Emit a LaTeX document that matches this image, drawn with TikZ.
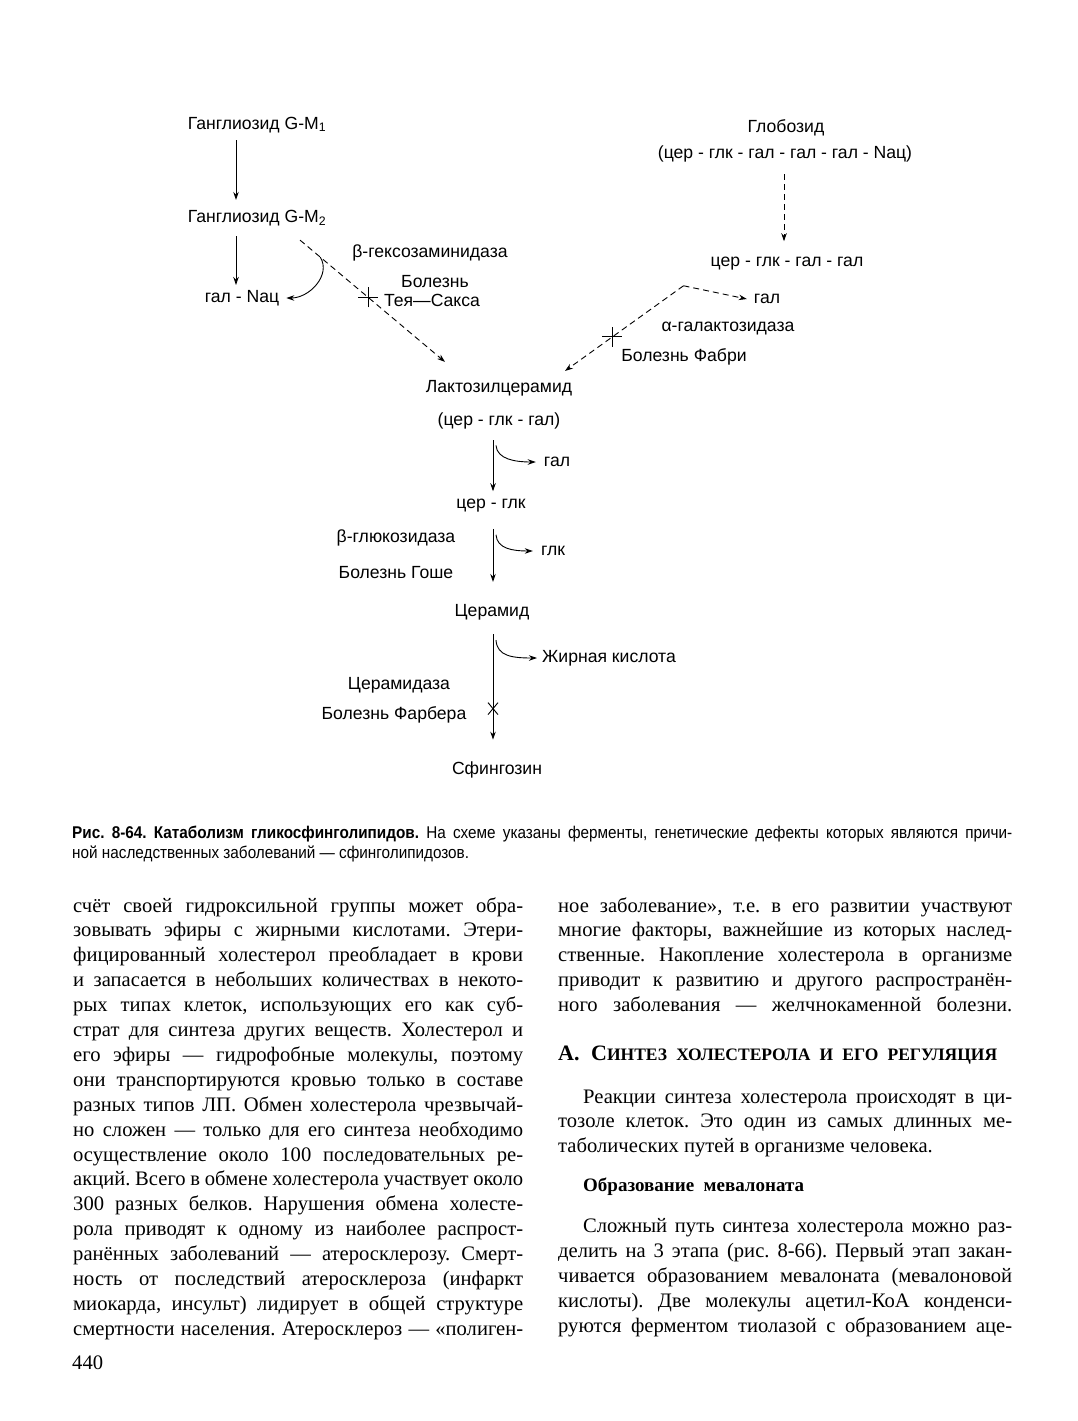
\documentclass[tikz,border=0pt]{standalone}
\usepackage{fontspec}
\setmainfont{Liberation Serif}
\newfontfamily\dsans{Liberation Sans}
\newfontfamily\capsans[FakeStretch=0.9]{Liberation Sans}
\usetikzlibrary{arrows.meta,calc}
\frenchspacing
\begin{document}
\begin{tikzpicture}[x=1pt,y=-1pt,
 lbl/.style={font=\dsans\fontsize{17.6}{19}\selectfont, inner sep=0pt},
 arr/.style={line width=0.9pt,-{Stealth[length=8pt,width=5.5pt]}},
 darr/.style={arr,dash pattern=on 6pt off 4pt},
 tick/.style={line width=0.9pt},
 bodyl/.style={anchor=base west,inner sep=0pt,font=\frenchspacing\fontsize{20.6}{24}\selectfont},
 capl/.style={anchor=base west,inner sep=0pt,font=\frenchspacing\capsans\fontsize{17}{19}\selectfont},
]
\useasboundingbox (0,0) rectangle (1077,1421);
\fill[white] (0,0) rectangle (1077,1421);

% ---------- diagram nodes ----------
\node[lbl] (gm1) at (257,125) {Ганглиозид G-M\textsubscript{1}};
\node[lbl] (gm2) at (257,218) {Ганглиозид G-M\textsubscript{2}};
\node[lbl] (galnac) at (242,298) {гал - Nац};
\node[lbl] (hex) at (430,253) {β-гексозаминидаза};
\node[lbl] (tsb) at (435,282) {Болезнь};
\node[lbl] (tsn) at (432,300) {Тея—Сакса};

\node[lbl] (glob) at (786,128) {Глобозид};
\node[lbl] (globf) at (785,154) {(цер - глк - гал - гал - гал - Nац)};
\node[lbl] (cggg) at (787,264) {цер - глк - гал - гал};
\node[lbl] (gal2) at (767,299) {гал};
\node[lbl] (agal) at (728,329) {α-галактозидаза};
\node[lbl] (fabri) at (684,357) {Болезнь Фабри};

\node[lbl] (lac) at (499,388) {Лактозилцерамид};
\node[lbl] (lacf) at (499,421) {(цер - глк - гал)};
\node[lbl] (gal3) at (557,462) {гал};
\node[lbl] (cg) at (491,506) {цер - глк};
\node[lbl] (bgl) at (396,538) {β-глюкозидаза};
\node[lbl] (gosh) at (396,573) {Болезнь Гоше};
\node[lbl] (glk) at (553,551) {глк};
\node[lbl] (cer) at (492,612) {Церамид};
\node[lbl] (fa) at (609,658) {Жирная кислота};
\node[lbl] (cmd) at (399,685) {Церамидаза};
\node[lbl] (farb) at (394,715) {Болезнь Фарбера};
\node[lbl] (sph) at (497,770) {Сфингозин};

% ---------- connectors ----------
\draw[arr] ([xshift=-21pt,yshift=-7pt]gm1.south) -- ([xshift=-21pt,yshift=10pt]gm2.north);
\draw[arr] ([xshift=-21pt,yshift=-10pt]gm2.south) -- ([xshift=-6pt,yshift=5pt]galnac.north);

\coordinate (hexA) at ([xshift=43pt,yshift=-14pt]gm2.south);
\coordinate (hexB) at ([xshift=-54pt,yshift=18pt]lac.north);
\draw[darr] (hexA) -- (hexB);
\coordinate (tay) at ($(hexA)!0.47!(hexB)$);
\draw[tick] ([xshift=-10pt]tay) -- ([xshift=10pt]tay) ([yshift=-10pt]tay) -- ([yshift=10pt]tay);
\coordinate (hexC) at ($(hexA)!0.14!(hexB)$);
\draw[arr] (hexC) .. controls ($(hexC)+(11,18)$) and ($(galnac.east)+(30,0)$) .. ([xshift=7pt]galnac.east);

\draw[darr] ([xshift=-1pt,yshift=-12pt]globf.south) -- ([xshift=-3pt,yshift=16pt]cggg.north);
\coordinate (fab) at ([xshift=-27pt,yshift=-15pt]cggg.south west);
\draw[darr] (fab) -- ([xshift=-7pt]gal2.west);
\coordinate (fabB) at ([xshift=66pt,yshift=9pt]lac.north);
\draw[darr] (fab) -- (fabB);
\coordinate (fx) at ($(fab)!0.6!(fabB)$);
\draw[tick] ([xshift=-10pt]fx) -- ([xshift=10pt]fx) ([yshift=-10pt]fx) -- ([yshift=10pt]fx);

\draw[arr] ([xshift=-6pt,yshift=-11pt]lacf.south) -- ([xshift=2pt,yshift=8pt]cg.north);
\coordinate (c1) at ([xshift=-3pt,yshift=-16pt]lacf.south);
\draw[arr] (c1) .. controls ($(c1)+(1,14)$) and ($(gal3.west)+(-28,0)$) .. ([xshift=-8pt]gal3.west);

\draw[arr] ([xshift=2pt,yshift=-16pt]cg.south) -- ([xshift=1pt,yshift=22pt]cer.north);
\coordinate (c2) at ([xshift=5pt,yshift=-22pt]cg.south);
\draw[arr] (c2) .. controls ($(c2)+(1,14)$) and ($(glk.west)+(-28,0)$) .. ([xshift=-8pt]glk.west);

\draw[arr] ([xshift=1pt,yshift=-14pt]cer.south) -- ([xshift=-4pt,yshift=22pt]sph.north);
\coordinate (c3) at ([xshift=4pt,yshift=-20pt]cer.south);
\draw[arr] (c3) .. controls ($(c3)+(1,16)$) and ($(fa.west)+(-30,0)$) .. ([xshift=-5pt]fa.west);
\coordinate (fx2) at ([xshift=-4pt,yshift=53pt]sph.north);
\draw[tick] ([shift={(-5,-6)}]fx2) -- ([shift={(5,6)}]fx2) ([shift={(5,-6)}]fx2) -- ([shift={(-5,6)}]fx2);

% ---------- caption ----------
\node[capl] (cap1) at (72,838) {\makebox[940pt][s]{\bfseries Рис. 8-64. Катаболизм гликосфинголипидов.\mdseries\ На схеме указаны ферменты, генетические дефекты которых являются причи-}};
\node[capl] (cap2) at (72,858) {ной наследственных заболеваний — сфинголипидозов.};

% ---------- left column ----------
\node[bodyl] (l1) at (73,912) {\makebox[450pt][s]{счёт своей гидроксильной группы может обра-}};
\node[bodyl] (l2) at (73,936.9) {\makebox[450pt][s]{зовывать эфиры с жирными кислотами. Этери-}};
\node[bodyl] (l3) at (73,961.8) {\makebox[450pt][s]{фицированный холестерол преобладает в крови}};
\node[bodyl] (l4) at (73,986.7) {\makebox[450pt][s]{и запасается в небольших количествах в некото-}};
\node[bodyl] (l5) at (73,1011.6) {\makebox[450pt][s]{рых типах клеток, использующих его как суб-}};
\node[bodyl] (l6) at (73,1036.5) {\makebox[450pt][s]{страт для синтеза других веществ. Холестерол и}};
\node[bodyl] (l7) at (73,1061.4) {\makebox[450pt][s]{его эфиры — гидрофобные молекулы, поэтому}};
\node[bodyl] (l8) at (73,1086.3) {\makebox[450pt][s]{они транспортируются кровью только в составе}};
\node[bodyl] (l9) at (73,1111.2) {\makebox[450pt][s]{разных типов ЛП. Обмен холестерола чрезвычай-}};
\node[bodyl] (l10) at (73,1136.1) {\makebox[450pt][s]{но сложен — только для его синтеза необходимо}};
\node[bodyl] (l11) at (73,1161) {\makebox[450pt][s]{осуществление около 100 последовательных ре-}};
\node[bodyl] (l12) at (73,1185.9) {\makebox[450pt][s]{акций. Всего в обмене холестерола участвует около}};
\node[bodyl] (l13) at (73,1210.8) {\makebox[450pt][s]{300 разных белков. Нарушения обмена холесте-}};
\node[bodyl] (l14) at (73,1235.7) {\makebox[450pt][s]{рола приводят к одному из наиболее распрост-}};
\node[bodyl] (l15) at (73,1260.6) {\makebox[450pt][s]{ранённых заболеваний — атеросклерозу. Смерт-}};
\node[bodyl] (l16) at (73,1285.5) {\makebox[450pt][s]{ность от последствий атеросклероза (инфаркт}};
\node[bodyl] (l17) at (73,1310.4) {\makebox[450pt][s]{миокарда, инсульт) лидирует в общей структуре}};
\node[bodyl] (l18) at (73,1335.3) {\makebox[450pt][s]{смертности населения. Атеросклероз — «полиген-}};
\node[bodyl] (pg) at (72,1369) {440};

% ---------- right column ----------
\node[bodyl] (r1) at (558,912) {\makebox[454pt][s]{ное заболевание», т.е. в его развитии участвуют}};
\node[bodyl] (r2) at (558,936.9) {\makebox[454pt][s]{многие факторы, важнейшие из которых наслед-}};
\node[bodyl] (r3) at (558,961.8) {\makebox[454pt][s]{ственные. Накопление холестерола в организме}};
\node[bodyl] (r4) at (558,986.7) {\makebox[454pt][s]{приводит к развитию и другого распространён-}};
\node[bodyl] (r5) at (558,1011.6) {\makebox[454pt][s]{ного заболевания — желчнокаменной болезни.}};
\node[bodyl,font=\bfseries\fontsize{22}{24}\selectfont] (hd) at (558,1060) {\makebox[439pt][s]{А. С{\fontsize{17.5}{18}\selectfont ИНТЕЗ ХОЛЕСТЕРОЛА И ЕГО РЕГУЛЯЦИЯ}}};
\node[bodyl] (r6) at (583,1103) {\makebox[429pt][s]{Реакции синтеза холестерола происходят в ци-}};
\node[bodyl] (r7) at (558,1127.9) {\makebox[454pt][s]{тозоле клеток. Это один из самых длинных ме-}};
\node[bodyl] (r8) at (558,1152.8) {таболических путей в организме человека.};
\node[bodyl,font=\bfseries\fontsize{19}{20}\selectfont] (sub) at (583,1191) {Образование\ \ мевалоната};
\node[bodyl] (r9) at (583,1232) {\makebox[429pt][s]{Сложный путь синтеза холестерола можно раз-}};
\node[bodyl] (r10) at (558,1257) {\makebox[454pt][s]{делить на 3 этапа (рис. 8-66). Первый этап закан-}};
\node[bodyl] (r11) at (558,1282) {\makebox[454pt][s]{чивается образованием мевалоната (мевалоновой}};
\node[bodyl] (r12) at (558,1307) {\makebox[454pt][s]{кислоты). Две молекулы ацетил-КоА конденси-}};
\node[bodyl] (r13) at (558,1332) {\makebox[454pt][s]{руются ферментом тиолазой с образованием аце-}};
\end{tikzpicture}
\end{document}
